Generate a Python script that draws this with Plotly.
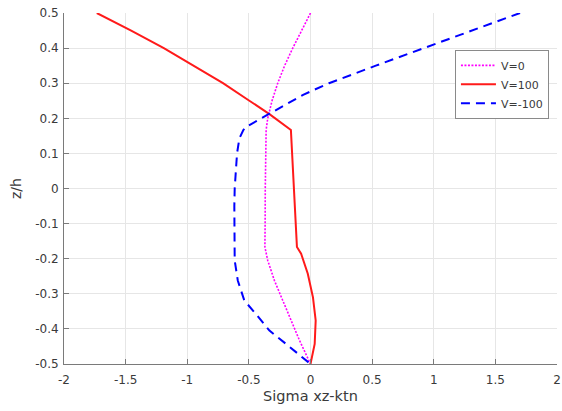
import plotly.graph_objects as go

# ---- data ----
z_v0 = [0.5, 0.45, 0.4, 0.35, 0.3, 0.25, 0.2, 0.1667, 0.1, 0.0, -0.1, -0.1667,
        -0.205, -0.262, -0.319, -0.376, -0.433, -0.5]
x_v0 = [0.0, -0.074, -0.144, -0.21, -0.266, -0.312, -0.347, -0.36, -0.364, -0.367,
        -0.368, -0.37, -0.347, -0.293, -0.225, -0.157, -0.089, 0.0]

z_v100 = [0.5, 0.45, 0.4, 0.35, 0.3, 0.25, 0.212, 0.1667, 0.1, 0.0, -0.1, -0.1667,
          -0.186, -0.243, -0.31, -0.376, -0.443, -0.5]
x_v100 = [-1.734, -1.455, -1.19, -0.945, -0.71, -0.496, -0.333, -0.159, -0.15, -0.135,
          -0.12, -0.11, -0.076, -0.022, 0.02, 0.042, 0.034, 0.0]

z_vm100 = [0.5, 0.45, 0.4, 0.35, 0.3, 0.267, 0.213, 0.176, 0.1667, 0.143, 0.1, 0.05,
           0.0, -0.05, -0.1, -0.156, -0.205, -0.262, -0.319, -0.358, -0.405, -0.443, -0.5]
x_vm100 = [1.70, 1.305, 0.91, 0.53, 0.15, -0.06, -0.333, -0.52, -0.545, -0.577, -0.596,
           -0.608, -0.615, -0.618, -0.619, -0.618, -0.615, -0.59, -0.537, -0.442, -0.333,
           -0.198, 0.0]

series_names = ["V=0", "V=100", "V=-100"]

x_tickvals = [-2, -1.5, -1, -0.5, 0, 0.5, 1, 1.5, 2]
x_ticktext = ["-2", "-1.5", "-1", "-0.5", "0", "0.5", "1", "1.5", "2"]
y_tickvals = [0.5, 0.4, 0.3, 0.2, 0.1, 0, -0.1, -0.2, -0.3, -0.4, -0.5]
y_ticktext = ["0.5", "0.4", "0.3", "0.2", "0.1", "0", "-0.1", "-0.2", "-0.3", "-0.4", "-0.5"]

FONT = "DejaVu Sans, Arial, sans-serif"
TXT = "#3a3a3a"

fig = go.Figure()
fig.add_trace(go.Scatter(x=x_v0, y=z_v0, mode="lines", name=series_names[0],
                         line=dict(color="#FF00FF", width=1.6, dash="2px,1.5px")))
fig.add_trace(go.Scatter(x=x_v100, y=z_v100, mode="lines", name=series_names[1],
                         line=dict(color="#FF1A1A", width=2)))
fig.add_trace(go.Scatter(x=x_vm100, y=z_vm100, mode="lines", name=series_names[2],
                         line=dict(color="#0000FF", width=2, dash="9px,6px")))

axis_common = dict(
    showgrid=True, gridcolor="#e6e6e6", gridwidth=1,
    zeroline=False, showline=True, linecolor="#7a7a7a", linewidth=1,
    ticks="inside", ticklen=5, tickcolor="#7a7a7a", tickwidth=1,
    tickfont=dict(family=FONT, size=12, color=TXT),
    mirror=False, automargin=False,
)

fig.update_layout(
    width=562, height=411,
    margin=dict(l=64, r=5, t=13, b=47),
    paper_bgcolor="white", plot_bgcolor="white",
    font=dict(family=FONT, color=TXT),
    xaxis=dict(range=[-2, 2], tickmode="array", tickvals=x_tickvals, ticktext=x_ticktext,
               ticklabelstandoff=5,
               title=dict(text="Sigma xz-ktn", font=dict(family=FONT, size=14.5, color=TXT),
                          standoff=4),
               **axis_common),
    yaxis=dict(range=[-0.5, 0.5], tickmode="array", tickvals=y_tickvals, ticktext=y_ticktext,
               ticklabelstandoff=2,
               title=dict(text="z/h", font=dict(family=FONT, size=14, color=TXT),
                          standoff=10),
               **axis_common),
    legend=dict(x=0.793, y=0.895, xanchor="left", yanchor="top",
                bgcolor="white", bordercolor="#8a8a8a", borderwidth=1,
                font=dict(family=FONT, size=11, color=TXT),
                itemwidth=35, tracegroupgap=0),
    showlegend=True,
)

fig.write_html("out.html", config={"displayModeBar": False},
               post_script="document.body.style.margin='0px';")
